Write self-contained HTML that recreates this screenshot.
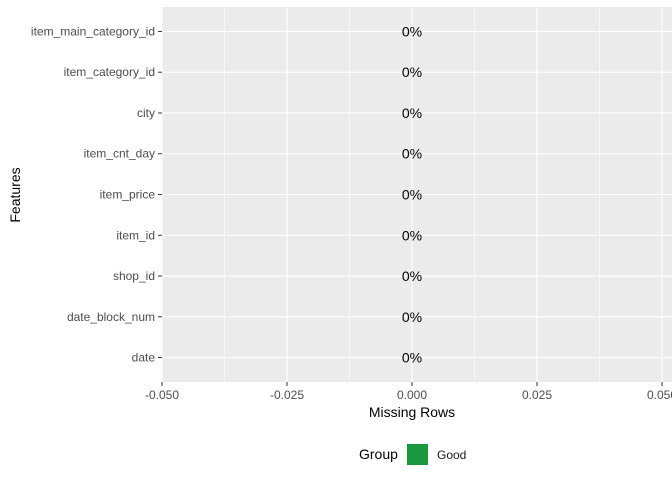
<!DOCTYPE html>
<html><head><meta charset="utf-8"><style>
body{margin:0;background:#fff;}
svg{font-family:"Liberation Sans",sans-serif;}
</style></head><body>
<svg id="chart" width="672" height="480">
<rect x="162" y="7" width="510" height="375" fill="#ebebeb"/>
<g id="grid"></g><g id="marks"></g><g id="axes"></g>
<text x="412" y="417" font-size="14" text-anchor="middle" fill="#000">Missing Rows</text>
<text transform="translate(20,195) rotate(-90)" font-size="14" text-anchor="middle" fill="#000">Features</text>
<g>
<text x="359" y="459" font-size="14" fill="#000">Group</text>
<rect x="407" y="444" width="21" height="21" fill="#1a9641"/>
<text x="437" y="459" font-size="12" fill="#1a1a1a">Good</text>
</g>
</svg>
<script>
const categories=["date","date_block_num","shop_id","item_id","item_price","item_cnt_day","city","item_category_id","item_main_category_id"];
const values=[0,0,0,0,0,0,0,0,0];
const pctLabels=["0%","0%","0%","0%","0%","0%","0%","0%","0%"];
const xTicks=[-0.05,-0.025,0,0.025,0.05];
const xTickLabels=["-0.050","-0.025","0.000","0.025","0.050"];
const NS="http://www.w3.org/2000/svg";
const pL=162,pR=672,pT=7,pB=382;
const xs=v=>412+v*(125/0.025);
const step=(pB-pT)/(categories.length-1+1.2);
const ys=i=>pB-step*(0.6+i);
function mk(tag,attrs,parent){const e=document.createElementNS(NS,tag);for(const k in attrs)e.setAttribute(k,attrs[k]);document.getElementById(parent).appendChild(e);return e;}
for(let i=0;i<xTicks.length-1;i++){const m=(xTicks[i]+xTicks[i+1])/2;
const g=mk("line",{x1:xs(m),x2:xs(m),y1:pT,y2:pB,stroke:"#fff","stroke-width":0.6},"grid");

}
xTicks.forEach((t,i)=>{const g=mk("line",{x1:xs(t),x2:xs(t),y1:pT,y2:pB,stroke:"#fff","stroke-width":1.1},"grid");


const tk=mk("line",{x1:xs(t),x2:xs(t),y1:pB,y2:pB+4,stroke:"#333","stroke-width":1},"axes");


const tx=mk("text",{x:xs(t),y:pB+17,"font-size":12,"text-anchor":"middle",fill:"#4d4d4d"},"axes");
tx.textContent=xTickLabels[i];

});
categories.forEach((c,i)=>{const y=ys(i);
const g=mk("line",{x1:pL,x2:pR,y1:y,y2:y,stroke:"#fff","stroke-width":1.1},"grid");


const tk=mk("line",{x1:pL-4,x2:pL,y1:y,y2:y,stroke:"#333","stroke-width":1},"axes");


const tx=mk("text",{x:pL-7,y:y+4,"font-size":12,"text-anchor":"end",fill:"#4d4d4d"},"axes");
tx.textContent=c;


const b=mk("rect",{x:Math.min(xs(0),xs(values[i])),y:y-step*0.45,width:Math.abs(xs(values[i])-xs(0)),height:step*0.9,fill:"#1a9641"},"marks");


const l=mk("text",{x:xs(values[i]),y:y+5,"font-size":14,"text-anchor":"middle",fill:"#000"},"marks");
l.textContent=pctLabels[i];

});
</script>
</body></html>
